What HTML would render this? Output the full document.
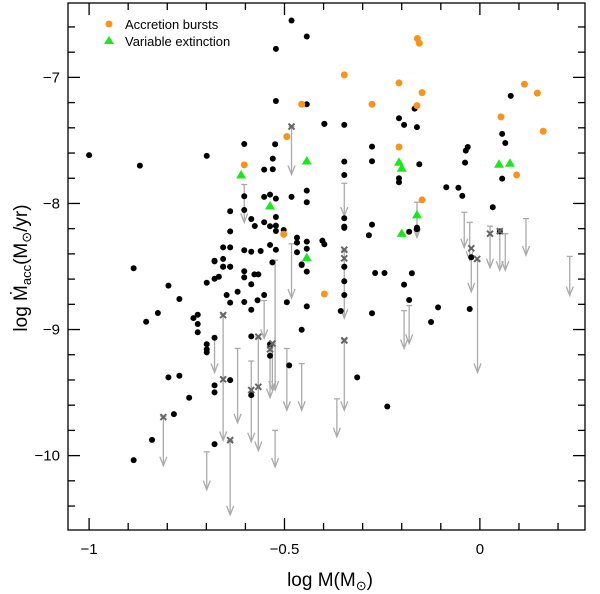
<!DOCTYPE html>
<html><head><meta charset="utf-8"><style>
html,body{margin:0;padding:0;background:#fff;}
svg{display:block;font-family:"Liberation Sans",sans-serif;}
</style></head><body>
<svg id="chart" width="600" height="594" viewBox="0 0 600 594">
<rect x="68" y="3" width="517" height="527" fill="none" stroke="#000" stroke-width="1.3"/>
<g id="axes"></g>
<g id="marks"></g>
<text x="330" y="586" font-size="19" text-anchor="middle">log M(M<tspan font-size="13" dy="4">⊙</tspan><tspan dy="-4">)</tspan></text>
<text transform="translate(27,268) rotate(-90)" font-size="19" text-anchor="middle">log Ṁ<tspan font-size="13" dy="4">acc</tspan><tspan dy="-4">(M</tspan><tspan font-size="13" dy="4">⊙</tspan><tspan dy="-4">/yr)</tspan></text>
<g>
<circle cx="109" cy="24" r="3.5" fill="#f7941d"/>
<text x="125" y="29" font-size="13">Accretion bursts</text>
<polygon points="109,36 114,44 104,44" fill="#1ee61e"/>
<text x="125" y="46" font-size="13">Variable extinction</text>
</g>
</svg>
<script>
const xMin=-1.054,xMax=0.269,yMin=-10.59,yMax=-6.41;
const xTicks=[-1,-0.5,0];
const xTickLabels=["−1","−0.5","0"];
const yTicks=[-7,-8,-9,-10];
const yTickLabels=["−7","−8","−9","−10"];
const detMass=[-1.0,-0.870,-0.886,-0.482,-0.443,-0.522,-0.522,-0.443,-0.398,-0.699,-0.603,-0.524,-0.530,-0.552,-0.530,-0.443,-0.443,-0.482,-0.603,-0.552,-0.537,-0.522,-0.639,-0.603,-0.585,-0.576,-0.552,-0.537,-0.522,-0.522,-0.522,-0.502,-0.639,-0.468,-0.468,-0.657,-0.639,-0.603,-0.585,-0.561,-0.537,-0.522,-0.468,-0.443,-0.443,-0.403,-0.398,-0.679,-0.657,-0.657,-0.639,-0.456,
-0.398,-0.347,-0.207,-0.194,-0.161,-0.167,-0.276,-0.347,-0.276,-0.347,-0.207,-0.207,-0.155,-0.031,-0.036,-0.038,-0.086,-0.055,-0.045,0.079,0.057,0.065,0.057,0.033,-0.347,-0.347,-0.347,-0.276,-0.284,-0.181,-0.161,-0.161,-0.022,0.051,-0.347,
-0.797,-0.769,-0.824,-0.854,-0.733,-0.722,-0.722,-0.722,-0.699,-0.679,-0.668,-0.679,-0.657,-0.639,-0.603,-0.603,-0.577,-0.567,-0.585,-0.648,-0.620,-0.639,-0.603,-0.585,-0.569,-0.552,-0.494,-0.443,-0.456,-0.443,-0.456,-0.531,-0.699,-0.699,-0.699,-0.679,-0.585,-0.537,-0.537,-0.488,-0.769,-0.797,-0.744,-0.783,-0.679,-0.679,-0.639,-0.585,-0.839,-0.886,-0.679,
-0.347,-0.347,-0.347,-0.356,-0.268,-0.244,-0.276,-0.194,-0.174,-0.181,-0.107,-0.125,-0.026,-0.314,-0.237];
const detLogMacc=[-7.617,-7.700,-8.514,-6.549,-6.676,-6.774,-7.187,-7.213,-7.369,-7.623,-7.528,-7.530,-7.644,-7.732,-7.729,-7.898,-7.990,-7.948,-7.943,-7.948,-7.930,-7.962,-8.062,-8.052,-8.123,-8.179,-8.149,-8.181,-8.107,-8.176,-8.218,-8.210,-8.221,-8.271,-8.311,-8.348,-8.348,-8.371,-8.383,-8.377,-8.329,-8.367,-8.387,-8.359,-8.303,-8.295,-8.324,-8.454,-8.440,-8.502,-8.502,-8.488,
-7.369,-7.377,-7.324,-7.377,-7.395,-7.248,-7.549,-7.668,-7.665,-7.774,-7.800,-7.832,-7.689,-7.552,-7.581,-7.676,-7.871,-7.875,-7.940,-7.147,-7.448,-7.520,-7.803,-8.030,-8.117,-8.184,-8.194,-8.168,-8.252,-8.224,-8.192,-8.205,-8.427,-8.221,-8.502,
-8.652,-8.758,-8.869,-8.938,-8.909,-8.883,-8.956,-9.022,-8.629,-8.597,-8.581,-8.459,-8.502,-8.502,-8.538,-8.586,-8.562,-8.562,-8.641,-8.726,-8.700,-8.787,-8.782,-8.843,-8.768,-8.726,-8.784,-8.816,-9.002,-8.541,-8.483,-8.467,-9.117,-9.157,-9.181,-9.065,-9.054,-9.117,-9.208,-9.284,-9.367,-9.379,-9.541,-9.671,-9.443,-9.498,-9.401,-9.520,-9.875,-10.036,-9.909,
-8.502,-8.617,-8.726,-8.853,-8.552,-8.552,-8.871,-8.644,-8.554,-8.766,-8.824,-8.940,-8.837,-9.379,-9.610];
const burstMass=[-0.456,-0.494,-0.603,-0.502,-0.160,-0.155,-0.347,-0.207,-0.148,-0.276,-0.161,-0.207,-0.148,0.054,0.114,0.147,0.162,0.094,-0.398];
const burstLogMacc=[-7.213,-7.470,-7.694,-8.244,-6.692,-6.729,-6.980,-7.044,-7.121,-7.213,-7.224,-7.552,-7.972,-7.313,-7.054,-7.125,-7.427,-7.774,-8.718];
const extMass=[-0.443,-0.611,-0.537,-0.443,-0.207,-0.200,0.049,0.077,-0.161,-0.200];
const extLogMacc=[-7.663,-7.774,-8.020,-8.430,-7.673,-7.721,-7.689,-7.681,-8.091,-8.237];
const limMass=[-0.482,-0.603,-0.347,-0.161,-0.040,-0.026,0.026,0.051,0.065,0.118,0.230,-0.657,-0.567,-0.531,-0.639,-0.810,-0.679,-0.620,-0.585,-0.552,-0.524,-0.537,-0.494,-0.456,-0.524,-0.699,-0.482,-0.347,-0.366,-0.194,-0.181,-0.006,-0.022,-0.347];
const limTop=[-7.39,-7.85,-7.84,-7.99,-8.07,-8.15,-8.18,-8.23,-8.24,-8.12,-8.42,-8.88,-9.06,-9.11,-9.88,-9.69,-9.07,-9.15,-9.25,-8.77,-8.45,-9.15,-9.15,-9.27,-9.80,-9.97,-8.32,-9.08,-9.55,-8.85,-8.81,-8.45,-8.42,-8.37];
const limBottom=[-7.77,-8.15,-8.10,-8.27,-8.35,-8.45,-8.51,-8.53,-8.53,-8.41,-8.73,-9.88,-9.96,-9.48,-10.47,-10.08,-9.34,-9.74,-9.89,-9.07,-9.48,-9.54,-9.64,-9.64,-10.09,-10.27,-8.75,-9.64,-9.85,-9.15,-9.11,-9.34,-8.70,-8.91];
const crossMass=[-0.482,0.026,0.051,-0.022,-0.007,-0.347,-0.347,-0.657,-0.657,-0.567,-0.567,-0.585,-0.531,-0.537,-0.639,-0.810,-0.347];
const crossLogMacc=[-7.39,-8.24,-8.22,-8.356,-8.44,-8.367,-8.435,-8.885,-9.395,-9.057,-9.454,-9.48,-9.11,-9.157,-9.877,-9.694,-9.086];

const L=68,R=585,T=3,B=530;
function sx(v){return L+(v-xMin)/(xMax-xMin)*(R-L);}
function sy(v){return T+(yMax-v)/(yMax-yMin)*(B-T);}
const NS="http://www.w3.org/2000/svg";
function mk(tag,attrs,parent){const e=document.createElementNS(NS,tag);for(const k in attrs)e.setAttribute(k,attrs[k]);parent.appendChild(e);return e;}
const axes=document.getElementById('axes'),marks=document.getElementById('marks');
for(let i=-11;i<=3;i++){const v=i/10;if(v<xMin||v>xMax)continue;const major=Math.abs(v*2-Math.round(v*2))<1e-9;const len=major?12:7;const x=sx(v);
 const t1=mk('line',{x1:x,x2:x,y1:B,y2:B-len,stroke:'#000','stroke-width':1.3},axes);
 
 
 const t2=mk('line',{x1:x,x2:x,y1:T,y2:T+len,stroke:'#000','stroke-width':1.3},axes);
 
 }
for(let i=-53;i<=-32;i++){const v=i/5;if(v<yMin||v>yMax)continue;const major=Math.abs(v-Math.round(v))<1e-9;const len=major?12:7;const y=sy(v);
 const t1=mk('line',{x1:L,x2:L+len,y1:y,y2:y,stroke:'#000','stroke-width':1.3},axes);
 
 
 const t2=mk('line',{x1:R,x2:R-len,y1:y,y2:y,stroke:'#000','stroke-width':1.3},axes);
 
 }
xTicks.forEach((v,i)=>{const t=mk('text',{x:sx(v),y:554,'font-size':15,'text-anchor':'middle'},axes);t.textContent=xTickLabels[i];
 
 });
yTicks.forEach((v,i)=>{const t=mk('text',{x:60,y:sy(v)+5,'font-size':15,'text-anchor':'end'},axes);t.textContent=yTickLabels[i];
 
 });
limMass.forEach((m,i)=>{const x=sx(m),y1=sy(limTop[i]),y2=sy(limBottom[i]);const g=mk('g',{stroke:'#aaa','stroke-width':1.3,fill:'none'},marks);
 
 
 mk('line',{x1:x,x2:x,y1:y1,y2:y2},g);mk('line',{x1:x-3,x2:x+3,y1:y1,y2:y1},g);
 mk('polyline',{points:`${x-3.5},${y2-9} ${x},${y2} ${x+3.5},${y2-9}`},g);});
detMass.forEach((m,i)=>{const c=mk('circle',{cx:sx(m),cy:sy(detLogMacc[i]),r:3,fill:'#000'},marks);
 
 });
crossMass.forEach((m,i)=>{const x=sx(m),y=sy(crossLogMacc[i]);const p=mk('path',{d:`M${x-3},${y-3}L${x+3},${y+3}M${x-3},${y+3}L${x+3},${y-3}`,stroke:'#666','stroke-width':2},marks);
 
 });
burstMass.forEach((m,i)=>{const c=mk('circle',{cx:sx(m),cy:sy(burstLogMacc[i]),r:3.5,fill:'#f7941d'},marks);
 
 });
extMass.forEach((m,i)=>{const x=sx(m),y=sy(extLogMacc[i]);const p=mk('polygon',{points:`${x},${y-5} ${x+5},${y+3.5} ${x-5},${y+3.5}`,fill:'#1ee61e'},marks);
 
 });
</script>
</body></html>
